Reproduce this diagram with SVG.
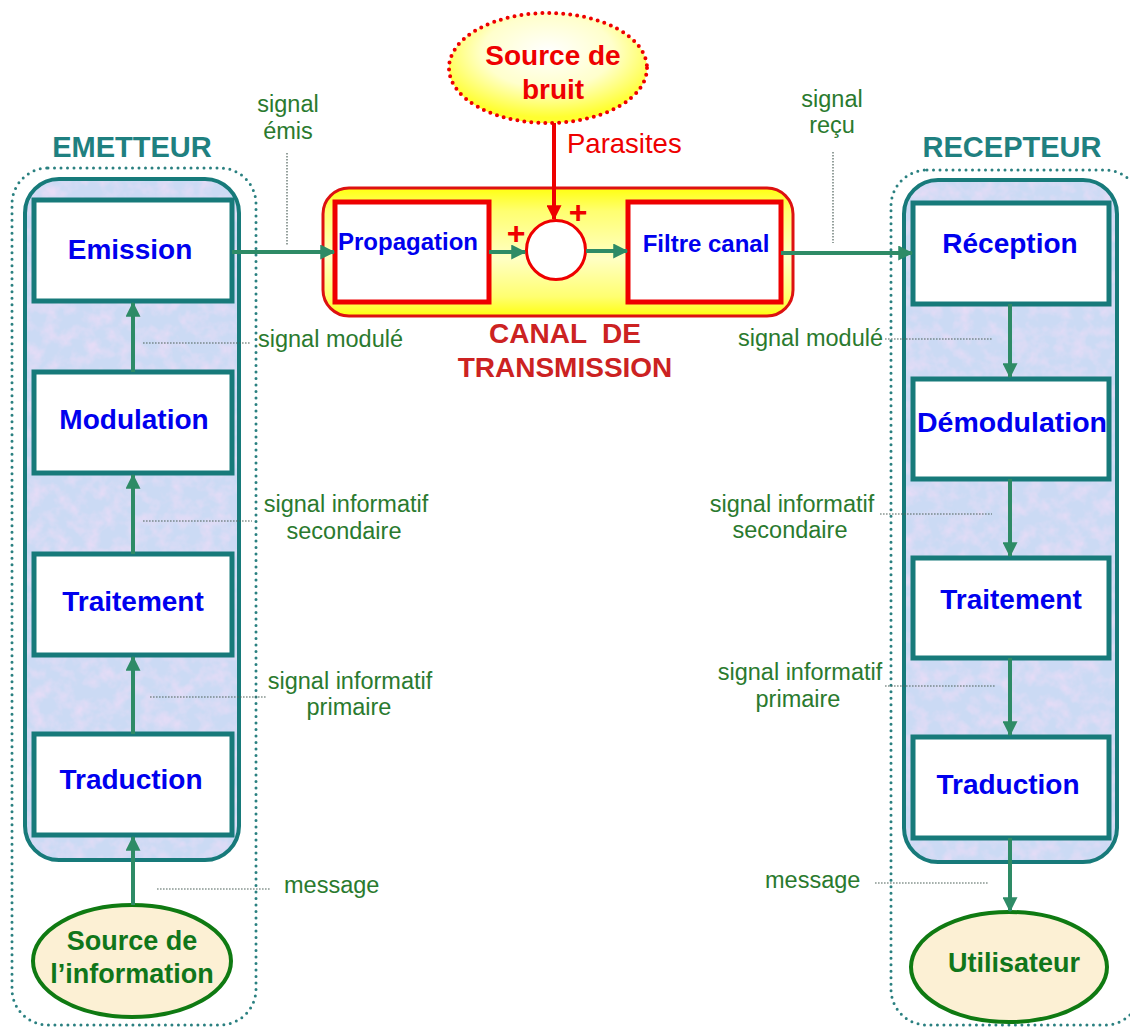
<svg xmlns="http://www.w3.org/2000/svg" width="1130" height="1028" viewBox="0 0 1130 1028">
  <defs>
    <style>
      text { font-family: "Liberation Sans", Arial, sans-serif; }
      .title { font-size: 29px; font-weight: bold; fill: #1f8080; text-anchor: middle; }
      .blk { fill: #ffffff; stroke: #177a7a; stroke-width: 5; }
      .blkTxt { font-size: 28px; font-weight: bold; fill: #0000ee; text-anchor: middle; }
      .chTxt { font-size: 24px; font-weight: bold; fill: #0000ee; text-anchor: middle; }
      .lbl { font-size: 23.5px; fill: #2a7a2e; text-anchor: middle; }
      .lblL { font-size: 23.5px; fill: #2a7a2e; text-anchor: start; }
      .lead { fill: none; stroke: #4f625b; stroke-width: 1.2; stroke-dasharray: 1.6 1.4; }
      .frame { fill: none; stroke: #2a8080; stroke-width: 3; stroke-dasharray: 0 6.5; stroke-linecap: round; }
      .col { fill: none; stroke: #177a7a; stroke-width: 4; }
      .flow { fill: none; stroke: #2e8b66; stroke-width: 4; marker-end: url(#arrG); }
      .ovalG { fill: #fcf0d4; stroke: #0f7a12; stroke-width: 4; }
      .ovalTxt { font-size: 27px; font-weight: bold; fill: #10761a; text-anchor: middle; }
      .redBox { fill: #ffffff; stroke: #ee0000; stroke-width: 5; }
    </style>
    <marker id="arrG" viewBox="0 0 12 12" refX="11" refY="6" markerWidth="15" markerHeight="15" markerUnits="userSpaceOnUse" orient="auto">
      <path d="M0,0 L12,6 L0,12 z" fill="#2e8b66"/>
    </marker>
    <marker id="arrR" viewBox="0 0 12 12" refX="11" refY="6" markerWidth="15" markerHeight="15" markerUnits="userSpaceOnUse" orient="auto">
      <path d="M0,0 L12,6 L0,12 z" fill="#ee0000"/>
    </marker>
    <linearGradient id="canalFill" x1="0" y1="0" x2="0" y2="1">
      <stop offset="0" stop-color="#ffff10"/>
      <stop offset="0.18" stop-color="#ffff70"/>
      <stop offset="0.55" stop-color="#ffffc4"/>
      <stop offset="0.85" stop-color="#ffff70"/>
      <stop offset="1" stop-color="#ffff10"/>
    </linearGradient>
    <radialGradient id="bruitFill" cx="0.5" cy="0.35" r="0.6">
      <stop offset="0" stop-color="#ffffff"/>
      <stop offset="0.55" stop-color="#ffffcc"/>
      <stop offset="1" stop-color="#ffff30"/>
    </radialGradient>
    <filter id="mottle" x="0" y="0" width="100%" height="100%">
      <feTurbulence type="fractalNoise" baseFrequency="0.07" numOctaves="3" seed="7" result="n"/>
      <feColorMatrix in="n" type="matrix" values="0 0 0 0 0.86  0 0 0 0 0.72  0 0 0 0 0.93  1.6 0 0 0 -0.62"/>
      <feComposite in2="SourceAlpha" operator="in"/>
    </filter>
  </defs>

  <rect width="1130" height="1028" fill="#ffffff"/>

  <!-- Emitter column -->
  <g id="emetteur">
    <text class="title" x="132" y="157">EMETTEUR</text>
    <rect class="frame" x="12" y="168" width="244" height="857" rx="36"/>
    <rect x="25" y="179" width="214" height="681" rx="34" fill="#cbdaf4"/>
    <rect x="25" y="179" width="214" height="681" rx="34" fill="#ffffff" filter="url(#mottle)"/>
    <rect class="col" x="25" y="179" width="214" height="681" rx="34"/>
  </g>

  <!-- Receiver column -->
  <g id="recepteur">
    <text class="title" x="1012" y="157">RECEPTEUR</text>
    <rect class="frame" x="891" y="170" width="250" height="855" rx="36"/>
    <rect x="904" y="180" width="213" height="682" rx="34" fill="#cbdaf4"/>
    <rect x="904" y="180" width="213" height="682" rx="34" fill="#ffffff" filter="url(#mottle)"/>
    <rect class="col" x="904" y="180" width="213" height="682" rx="34"/>
  </g>

  <!-- Transmission channel -->
  <g id="canal">
    <rect x="323" y="188" width="470" height="128" rx="26" fill="url(#canalFill)" stroke="#dd1111" stroke-width="3"/>
    <text x="565" y="343" font-size="28" font-weight="bold" fill="#cc2222" text-anchor="middle" xml:space="preserve">CANAL  DE</text>
    <text x="565" y="377" font-size="28" font-weight="bold" fill="#cc2222" text-anchor="middle">TRANSMISSION</text>
  </g>

  <g id="propagation">
    <rect class="redBox" x="335" y="202" width="154" height="100"/>
    <text class="chTxt" x="408" y="250">Propagation</text>
  </g>

  <g id="sommateur">
    <circle cx="556" cy="250" r="29.5" fill="#ffffff" stroke="#ee0000" stroke-width="3"/>
    <text x="516" y="244" font-size="32" font-weight="bold" fill="#ee0000" text-anchor="middle">+</text>
    <text x="578" y="223" font-size="32" font-weight="bold" fill="#ee0000" text-anchor="middle">+</text>
  </g>

  <g id="filtre-canal">
    <rect class="redBox" x="628" y="202" width="153" height="100"/>
    <text class="chTxt" x="706" y="252">Filtre canal</text>
  </g>

  <g id="source-bruit">
    <ellipse cx="548" cy="68" rx="99" ry="55" fill="url(#bruitFill)" stroke="#ee0000" stroke-width="4" stroke-dasharray="0 7" stroke-linecap="round"/>
    <text x="553" y="65" font-size="28" font-weight="bold" fill="#ee0000" text-anchor="middle">Source de</text>
    <text x="553" y="99" font-size="28" font-weight="bold" fill="#ee0000" text-anchor="middle">bruit</text>
  </g>

  <!-- Emitter blocks -->
  <g id="emission">
    <rect class="blk" x="34" y="200" width="198" height="101"/>
    <text class="blkTxt" x="130" y="259">Emission</text>
  </g>
  <g id="modulation">
    <rect class="blk" x="34" y="372" width="198" height="101"/>
    <text class="blkTxt" x="134" y="429">Modulation</text>
  </g>
  <g id="traitement-e">
    <rect class="blk" x="34" y="554" width="198" height="101"/>
    <text class="blkTxt" x="133" y="611">Traitement</text>
  </g>
  <g id="traduction-e">
    <rect class="blk" x="34" y="734" width="198" height="101"/>
    <text class="blkTxt" x="131" y="789">Traduction</text>
  </g>

  <!-- Receiver blocks -->
  <g id="reception">
    <rect class="blk" x="913" y="203" width="196" height="101"/>
    <text class="blkTxt" x="1010" y="253">Réception</text>
  </g>
  <g id="demodulation">
    <rect class="blk" x="913" y="379" width="196" height="100"/>
    <text class="blkTxt" x="1012" y="432" textLength="190" lengthAdjust="spacingAndGlyphs">Démodulation</text>
  </g>
  <g id="traitement-r">
    <rect class="blk" x="913" y="558" width="196" height="100"/>
    <text class="blkTxt" x="1011" y="609">Traitement</text>
  </g>
  <g id="traduction-r">
    <rect class="blk" x="913" y="737" width="196" height="101"/>
    <text class="blkTxt" x="1008" y="794">Traduction</text>
  </g>

  <!-- Source and destination -->
  <g id="source-information">
    <ellipse class="ovalG" cx="132" cy="961" rx="99" ry="56"/>
    <text class="ovalTxt" x="132" y="950">Source de</text>
    <text class="ovalTxt" x="132" y="983">l’information</text>
  </g>
  <g id="utilisateur">
    <ellipse class="ovalG" cx="1009" cy="967" rx="98" ry="55"/>
    <text class="ovalTxt" x="1014" y="972">Utilisateur</text>
  </g>

  <!-- Connectors -->
  <g id="connectors">
    <line class="flow" x1="133" y1="905" x2="133" y2="837"/>
    <line class="flow" x1="133" y1="734" x2="133" y2="657"/>
    <line class="flow" x1="133" y1="554" x2="133" y2="475"/>
    <line class="flow" x1="133" y1="372" x2="133" y2="303"/>
    <line class="flow" x1="232" y1="252" x2="334" y2="252"/>
    <line class="flow" x1="489" y1="252" x2="525" y2="252"/>
    <line class="flow" x1="586" y1="251" x2="627" y2="251"/>
    <line class="flow" x1="781" y1="253" x2="912" y2="253"/>
    <line class="flow" x1="1010" y1="304" x2="1010" y2="377"/>
    <line class="flow" x1="1010" y1="479" x2="1010" y2="556"/>
    <line class="flow" x1="1010" y1="658" x2="1010" y2="735"/>
    <line class="flow" x1="1010" y1="838" x2="1010" y2="911"/>
    <line x1="554" y1="123" x2="554" y2="219" stroke="#ee0000" stroke-width="4" marker-end="url(#arrR)"/>
  </g>

  <!-- Signal labels and leader lines -->
  <g id="labels">
    <text x="567" y="153" font-size="27.5" fill="#ee0000">Parasites</text>

    <text class="lbl" x="288" y="112">signal</text>
    <text class="lbl" x="288" y="139">émis</text>
    <line class="lead" x1="287" y1="153" x2="287" y2="245"/>

    <text class="lbl" x="832" y="107">signal</text>
    <text class="lbl" x="832" y="133">reçu</text>
    <line class="lead" x1="833" y1="152" x2="833" y2="243"/>

    <text class="lblL" x="258" y="347">signal modulé</text>
    <line class="lead" x1="143" y1="343" x2="250" y2="343"/>

    <text class="lbl" x="346" y="512">signal informatif</text>
    <text class="lbl" x="344" y="539">secondaire</text>
    <line class="lead" x1="143" y1="521" x2="252" y2="521"/>

    <text class="lbl" x="350" y="689">signal informatif</text>
    <text class="lbl" x="349" y="715">primaire</text>
    <line class="lead" x1="150" y1="697" x2="267" y2="697"/>

    <text class="lblL" x="284" y="893">message</text>
    <line class="lead" x1="157" y1="889" x2="270" y2="889"/>

    <text class="lblL" x="738" y="346">signal modulé</text>
    <line class="lead" x1="885" y1="339" x2="993" y2="339"/>

    <text class="lbl" x="792" y="512">signal informatif</text>
    <text class="lbl" x="790" y="538">secondaire</text>
    <line class="lead" x1="880" y1="514" x2="992" y2="514"/>

    <text class="lbl" x="800" y="680">signal informatif</text>
    <text class="lbl" x="798" y="707">primaire</text>
    <line class="lead" x1="885" y1="686" x2="995" y2="686"/>

    <text class="lblL" x="765" y="888">message</text>
    <line class="lead" x1="875" y1="883" x2="988" y2="883"/>
  </g>
</svg>
